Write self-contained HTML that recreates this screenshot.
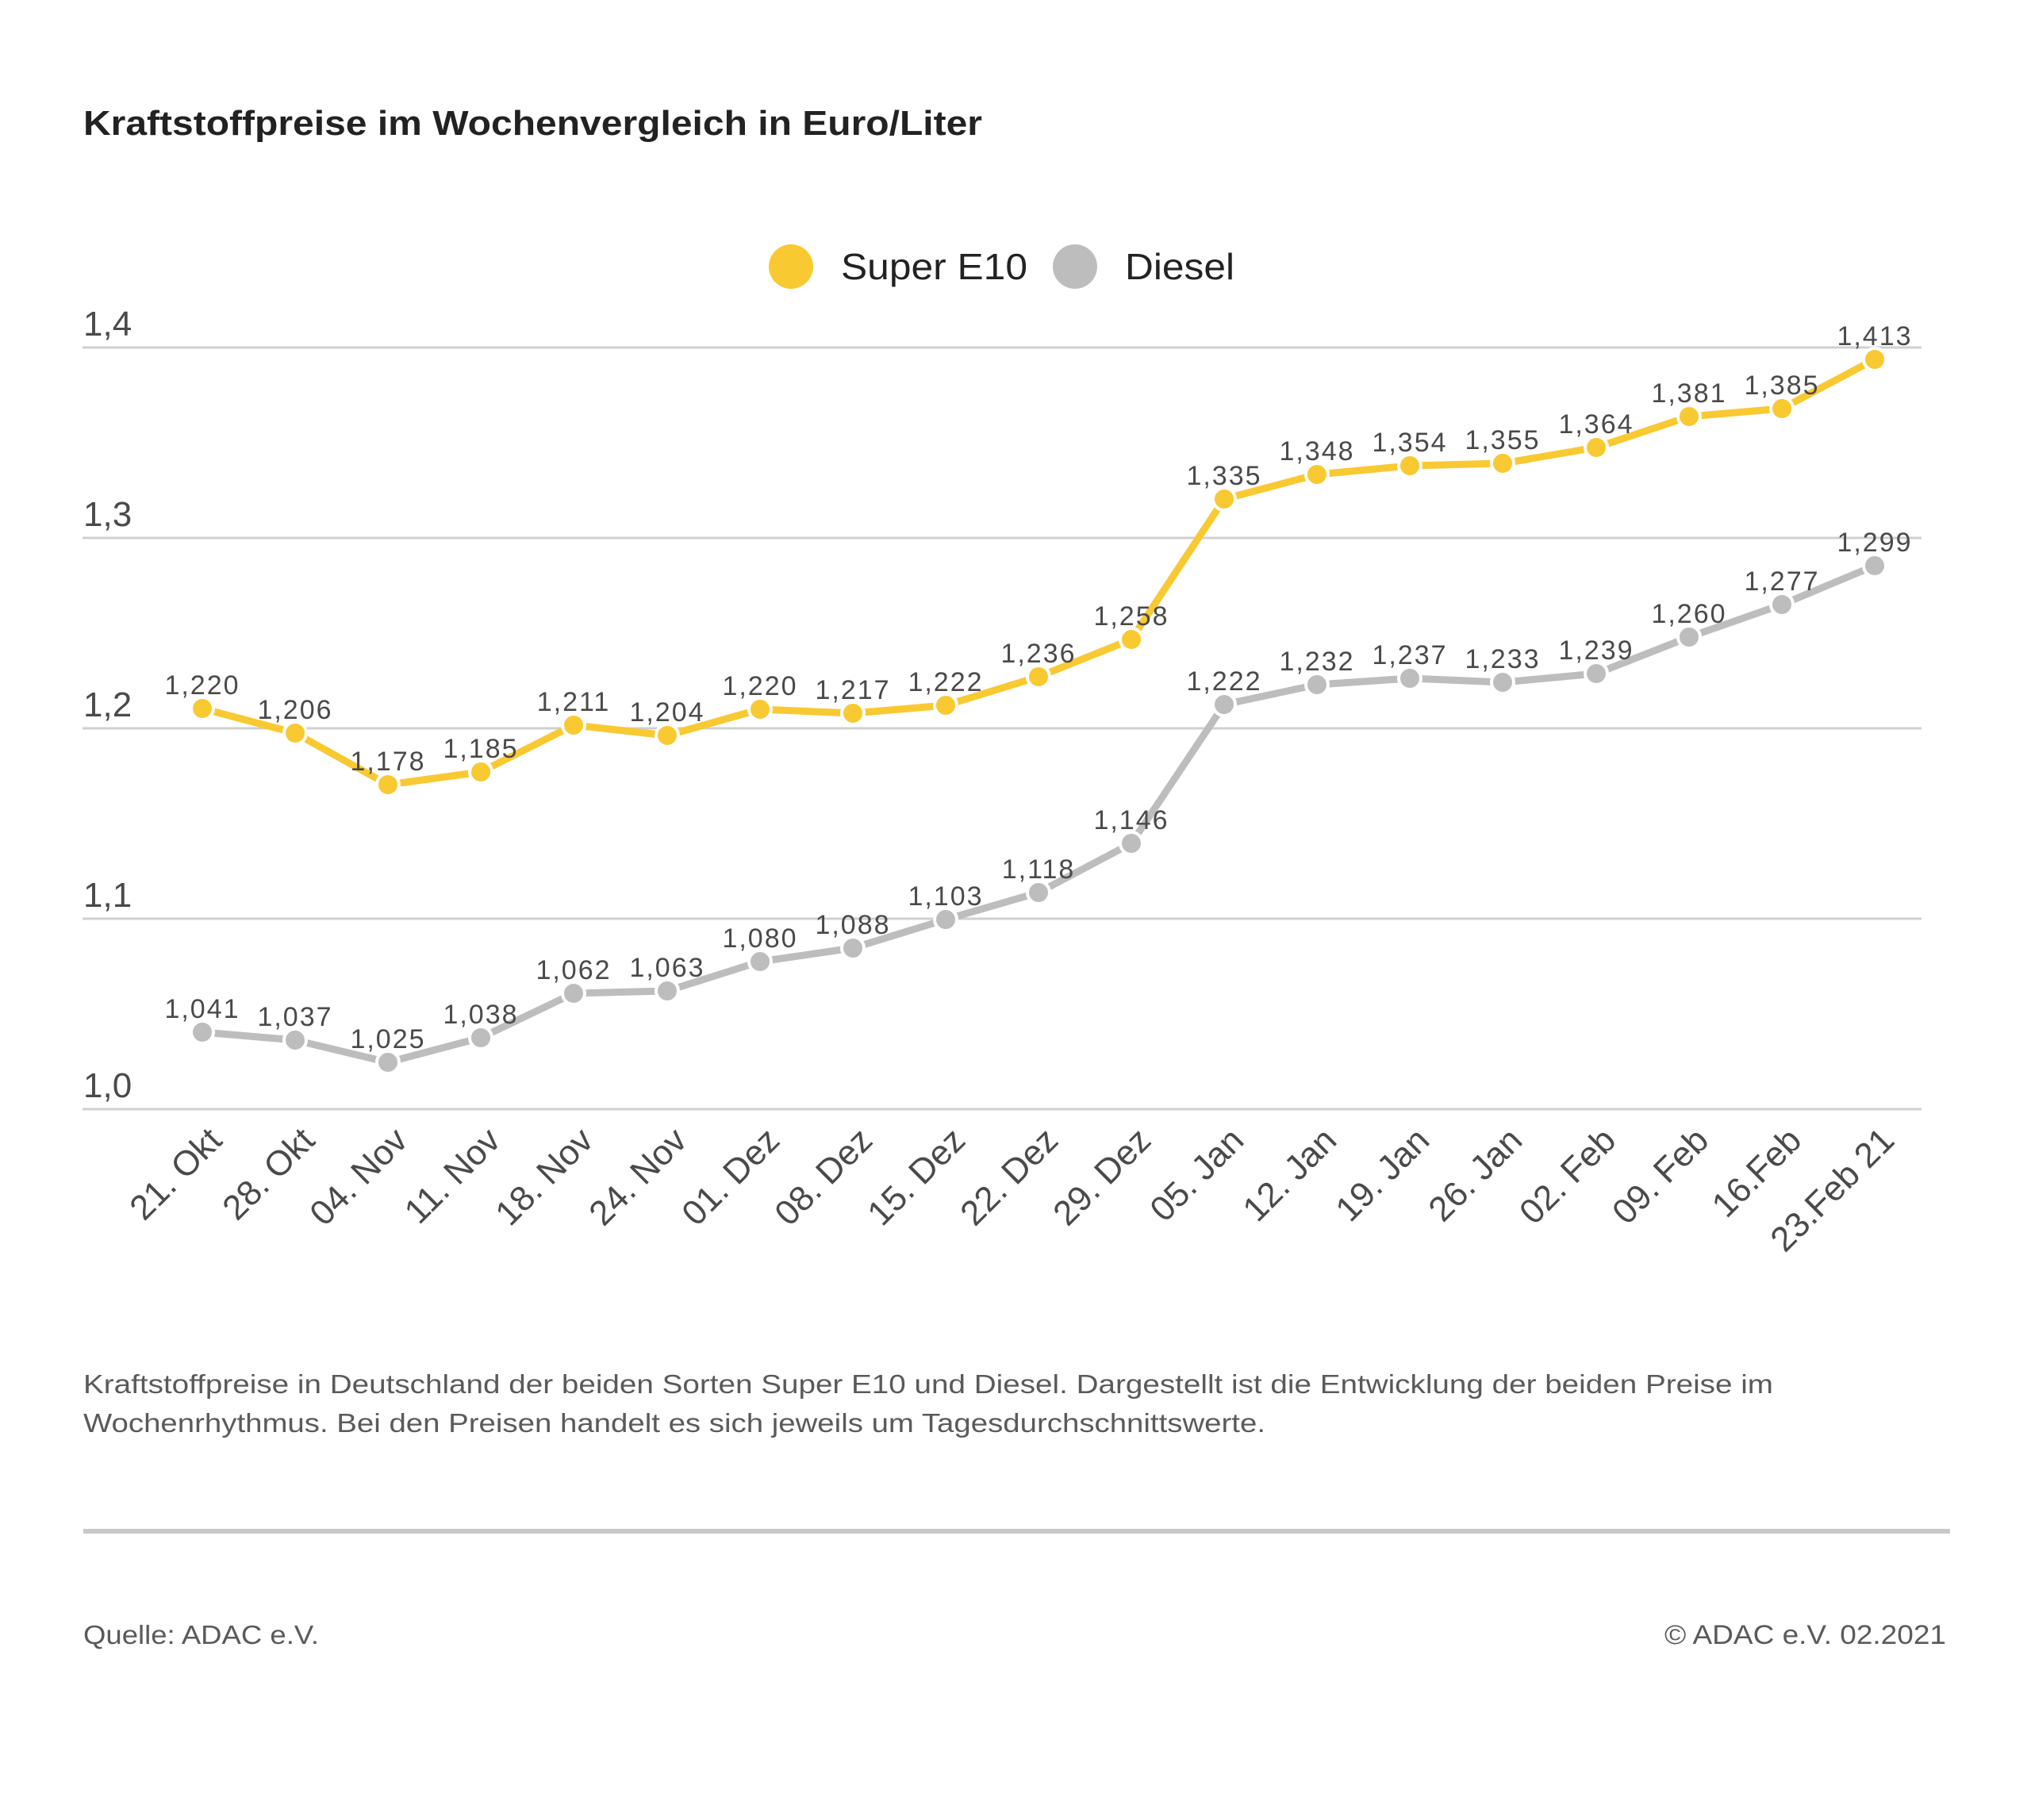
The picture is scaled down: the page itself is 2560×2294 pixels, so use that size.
<!DOCTYPE html>
<html><head><meta charset="utf-8"><style>
html,body{margin:0;padding:0;background:#fff}
svg{display:block}
text{font-family:"Liberation Sans",sans-serif;fill:#4a4a4a}
</style></head><body>
<svg width="2560" height="2294" viewBox="0 0 2560 2294" xmlns="http://www.w3.org/2000/svg">
<text x="105" y="170" font-size="44" font-weight="bold" fill="#222" style="fill:#222" textLength="1133" lengthAdjust="spacingAndGlyphs">Kraftstoffpreise im Wochenvergleich in Euro/Liter</text>
<circle cx="997" cy="336" r="28" fill="#f9c932"/>
<text x="1060" y="352" font-size="46" textLength="235" lengthAdjust="spacingAndGlyphs" style="fill:#222">Super E10</text>
<circle cx="1355" cy="336" r="28" fill="#bdbdbd"/>
<text x="1418" y="352" font-size="46" textLength="138" lengthAdjust="spacingAndGlyphs" style="fill:#222">Diesel</text>
<g stroke="#d0d0d0" stroke-width="3">
<line x1="104" y1="438" x2="2422" y2="438"/>
<line x1="104" y1="678" x2="2422" y2="678"/>
<line x1="104" y1="918" x2="2422" y2="918"/>
<line x1="104" y1="1158" x2="2422" y2="1158"/>
<line x1="104" y1="1398" x2="2422" y2="1398"/>
</g>
<g font-size="44">
<text x="105" y="423">1,4</text>
<text x="105" y="663">1,3</text>
<text x="105" y="903">1,2</text>
<text x="105" y="1143">1,1</text>
<text x="105" y="1383">1,0</text>
</g>
<polyline fill="none" stroke="#f9c932" stroke-width="9" stroke-linejoin="round" points="255,893 372,924 489,989 606,973 723,914 841,927 958,894 1075,899 1192,889 1309,853 1426,806 1543,629 1660,598 1777,587 1894,584 2012,564 2129,525 2246,515 2363,453"/>
<polyline fill="none" stroke="#bdbdbd" stroke-width="9" stroke-linejoin="round" points="255,1301 372,1311 489,1339 606,1308 723,1252 841,1249 958,1212 1075,1195 1192,1159 1309,1125 1426,1063 1543,888 1660,863 1777,855 1894,860 2012,849 2129,803 2246,762 2363,713"/>
<g fill="#f9c932" stroke="#fff" stroke-width="4">
<circle cx="255" cy="893" r="14"/><circle cx="372" cy="924" r="14"/><circle cx="489" cy="989" r="14"/><circle cx="606" cy="973" r="14"/><circle cx="723" cy="914" r="14"/><circle cx="841" cy="927" r="14"/><circle cx="958" cy="894" r="14"/><circle cx="1075" cy="899" r="14"/><circle cx="1192" cy="889" r="14"/><circle cx="1309" cy="853" r="14"/><circle cx="1426" cy="806" r="14"/><circle cx="1543" cy="629" r="14"/><circle cx="1660" cy="598" r="14"/><circle cx="1777" cy="587" r="14"/><circle cx="1894" cy="584" r="14"/><circle cx="2012" cy="564" r="14"/><circle cx="2129" cy="525" r="14"/><circle cx="2246" cy="515" r="14"/><circle cx="2363" cy="453" r="14"/>
</g>
<g fill="#bdbdbd" stroke="#fff" stroke-width="4">
<circle cx="255" cy="1301" r="14"/><circle cx="372" cy="1311" r="14"/><circle cx="489" cy="1339" r="14"/><circle cx="606" cy="1308" r="14"/><circle cx="723" cy="1252" r="14"/><circle cx="841" cy="1249" r="14"/><circle cx="958" cy="1212" r="14"/><circle cx="1075" cy="1195" r="14"/><circle cx="1192" cy="1159" r="14"/><circle cx="1309" cy="1125" r="14"/><circle cx="1426" cy="1063" r="14"/><circle cx="1543" cy="888" r="14"/><circle cx="1660" cy="863" r="14"/><circle cx="1777" cy="855" r="14"/><circle cx="1894" cy="860" r="14"/><circle cx="2012" cy="849" r="14"/><circle cx="2129" cy="803" r="14"/><circle cx="2246" cy="762" r="14"/><circle cx="2363" cy="713" r="14"/>
</g>
<g font-size="34" text-anchor="middle" letter-spacing="2">
<text x="255" y="875">1,220</text><text x="372" y="906">1,206</text><text x="489" y="971">1,178</text><text x="606" y="955">1,185</text><text x="723" y="896">1,211</text><text x="841" y="909">1,204</text><text x="958" y="876">1,220</text><text x="1075" y="881">1,217</text><text x="1192" y="871">1,222</text><text x="1309" y="835">1,236</text><text x="1426" y="788">1,258</text><text x="1543" y="611">1,335</text><text x="1660" y="580">1,348</text><text x="1777" y="569">1,354</text><text x="1894" y="566">1,355</text><text x="2012" y="546">1,364</text><text x="2129" y="507">1,381</text><text x="2246" y="497">1,385</text><text x="2363" y="435">1,413</text>
<text x="255" y="1283">1,041</text><text x="372" y="1293">1,037</text><text x="489" y="1321">1,025</text><text x="606" y="1290">1,038</text><text x="723" y="1234">1,062</text><text x="841" y="1231">1,063</text><text x="958" y="1194">1,080</text><text x="1075" y="1177">1,088</text><text x="1192" y="1141">1,103</text><text x="1309" y="1107">1,118</text><text x="1426" y="1045">1,146</text><text x="1543" y="870">1,222</text><text x="1660" y="845">1,232</text><text x="1777" y="837">1,237</text><text x="1894" y="842">1,233</text><text x="2012" y="831">1,239</text><text x="2129" y="785">1,260</text><text x="2246" y="744">1,277</text><text x="2363" y="695">1,299</text>
</g>
<g font-size="44" text-anchor="end">
<text transform="translate(282,1440) rotate(-45)">21. Okt</text>
<text transform="translate(399,1440) rotate(-45)">28. Okt</text>
<text transform="translate(516,1440) rotate(-45)">04. Nov</text>
<text transform="translate(633,1440) rotate(-45)">11. Nov</text>
<text transform="translate(750,1440) rotate(-45)">18. Nov</text>
<text transform="translate(868,1440) rotate(-45)">24. Nov</text>
<text transform="translate(985,1440) rotate(-45)">01. Dez</text>
<text transform="translate(1102,1440) rotate(-45)">08. Dez</text>
<text transform="translate(1219,1440) rotate(-45)">15. Dez</text>
<text transform="translate(1336,1440) rotate(-45)">22. Dez</text>
<text transform="translate(1453,1440) rotate(-45)">29. Dez</text>
<text transform="translate(1570,1440) rotate(-45)">05. Jan</text>
<text transform="translate(1687,1440) rotate(-45)">12. Jan</text>
<text transform="translate(1804,1440) rotate(-45)">19. Jan</text>
<text transform="translate(1921,1440) rotate(-45)">26. Jan</text>
<text transform="translate(2039,1440) rotate(-45)">02. Feb</text>
<text transform="translate(2156,1440) rotate(-45)">09. Feb</text>
<text transform="translate(2273,1440) rotate(-45)">16.Feb</text>
<text transform="translate(2390,1440) rotate(-45)">23.Feb 21</text>
</g>
<g font-size="33" style="fill:#5a5a5a">
<text x="105" y="1756" textLength="2130" lengthAdjust="spacingAndGlyphs" style="fill:#5a5a5a">Kraftstoffpreise in Deutschland der beiden Sorten Super E10 und Diesel. Dargestellt ist die Entwicklung der beiden Preise im</text>
<text x="105" y="1805" textLength="1490" lengthAdjust="spacingAndGlyphs" style="fill:#5a5a5a">Wochenrhythmus. Bei den Preisen handelt es sich jeweils um Tagesdurchschnittswerte.</text>
</g>
<line x1="105" y1="1930" x2="2458" y2="1930" stroke="#c8c8c8" stroke-width="6"/>
<text x="105" y="2072" font-size="33" textLength="297" lengthAdjust="spacingAndGlyphs" style="fill:#5a5a5a">Quelle: ADAC e.V.</text>
<text x="2098" y="2072" font-size="34" textLength="355" lengthAdjust="spacingAndGlyphs" style="fill:#5a5a5a">© ADAC e.V. 02.2021</text>
</svg>
</body></html>
